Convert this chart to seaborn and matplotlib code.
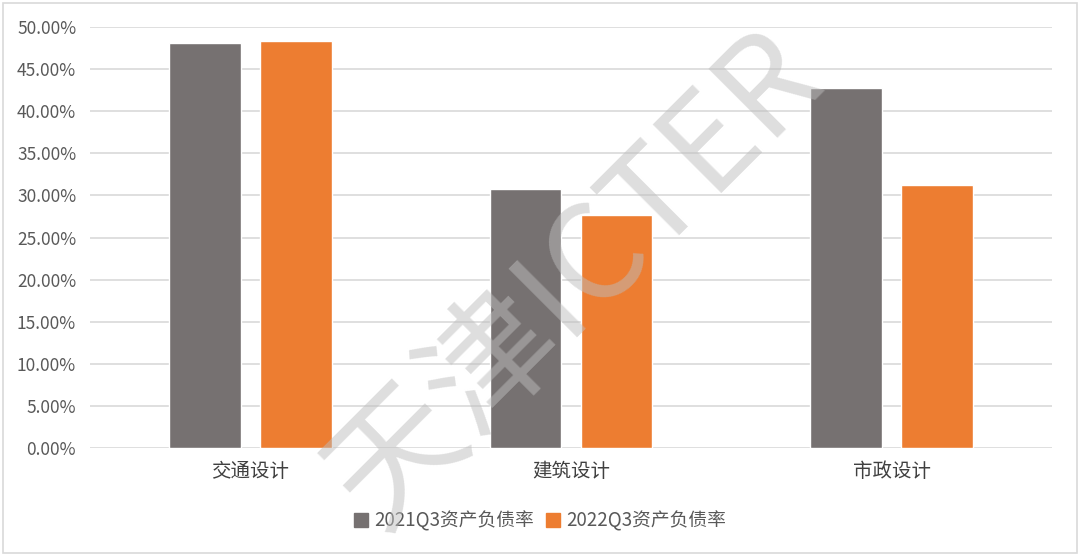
import matplotlib
matplotlib.use("Agg")
import matplotlib.pyplot as plt
import seaborn as sns
import pandas as pd
from matplotlib.patches import Rectangle
from matplotlib.ticker import FuncFormatter

categories = ["交通设计", "建筑设计", "市政设计"]
series_names = ["2021Q3资产负债率", "2022Q3资产负债率"]
values_2021 = [48.1, 30.7, 42.7]
values_2022 = [48.3, 27.7, 31.2]
colors = ["#767171", "#ED7D31"]

df = pd.DataFrame({
    "category": categories * 2,
    "series": [series_names[0]] * 3 + [series_names[1]] * 3,
    "value": values_2021 + values_2022,
})

sns.set_style("white")
plt.rcParams["font.family"] = ["Noto Sans CJK SC", "DejaVu Sans"]

fig = plt.figure(figsize=(10.8, 5.56), dpi=100)
ax = fig.add_axes([90 / 1080, 1 - 448.3 / 556, 962 / 1080, (448.3 - 26.7) / 556])

sns.barplot(data=df, x="category", y="value", hue="series", palette=colors,
            width=0.568, gap=0.215, ax=ax, saturation=1, legend=False)

ax.set_ylim(0, 50)
ax.set_xlim(-0.5, 2.5)
ax.set_yticks([i * 5 for i in range(11)])
ax.yaxis.set_major_formatter(FuncFormatter(lambda v, p: f"{v:.2f}%"))
ax.grid(axis="y", color="#D9D9D9", linewidth=1.2)
ax.set_axisbelow(True)
for s in ax.spines.values():
    s.set_visible(False)
ax.set_xlabel("")
ax.set_ylabel("")
ax.tick_params(axis="y", labelsize=12.5, colors="#595959", length=0, pad=10)
ax.tick_params(axis="x", labelsize=14, colors="#404040", length=0, pad=9)

# legend
handles = [Rectangle((0, 0), 1, 1, color=c) for c in colors]
fig.legend(handles, series_names, loc="center", bbox_to_anchor=(540 / 1080, 1 - 521 / 556),
           ncol=2, frameon=False, fontsize=13.5, handlelength=0.75, handleheight=0.75,
           handletextpad=0.35, columnspacing=0.6, labelcolor="#595959")

# watermark
fig.text(575 / 1080, 1 - 280 / 556, "天津ICTER", fontsize=96, color="#BDBDBD", alpha=0.5,
         rotation=45, ha="center", va="center", zorder=10, fontweight="light")

# outer border
fig.patches.append(Rectangle((3 / 1080, 3 / 556), 1074 / 1080, 550 / 556, transform=fig.transFigure,
                             fill=False, edgecolor="#D9D9D9", linewidth=1.2))

fig.savefig("out.png", dpi=100)
